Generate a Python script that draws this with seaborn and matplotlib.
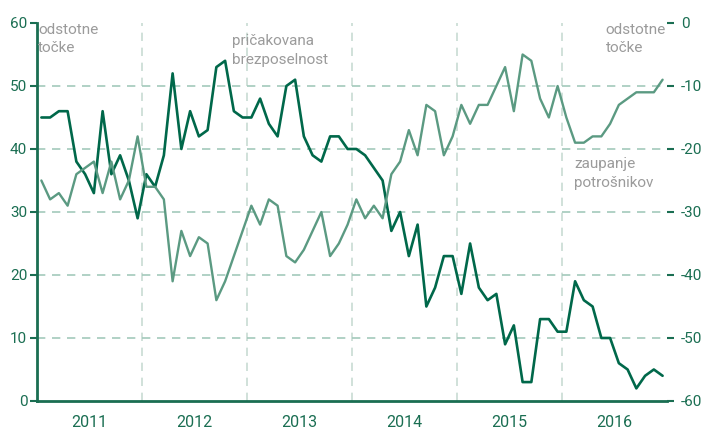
import matplotlib
matplotlib.use("Agg")
import numpy as np
import pandas as pd
import matplotlib.pyplot as plt
import matplotlib.transforms as mtransforms
import seaborn as sns

# monthly data, Jan 2011 - Dec 2016
years = ["2011", "2012", "2013", "2014", "2015", "2016"]

# pričakovana brezposelnost (left axis)
unemployment = [45, 45, 46, 46, 38, 36, 33, 46, 36, 39, 35, 29,
                36, 34, 39, 52, 40, 46, 42, 43, 53, 54, 46, 45,
                45, 48, 44, 42, 50, 51, 42, 39, 38, 42, 42, 40,
                40, 39, 37, 35, 27, 30, 23, 28, 15, 18, 23, 23,
                17, 25, 18, 16, 17, 9, 12, 3, 3, 13, 13, 11,
                11, 19, 16, 15, 10, 10, 6, 5, 2, 4, 5, 4]

# zaupanje potrošnikov (right axis)
confidence = [-25, -28, -27, -29, -24, -23, -22, -27, -22, -28, -25, -18,
              -26, -26, -28, -41, -33, -37, -34, -35, -44, -41, -37, -33,
              -29, -32, -28, -29, -37, -38, -36, -33, -30, -37, -35, -32,
              -28, -31, -29, -31, -24, -22, -17, -21, -13, -14, -21, -18,
              -13, -16, -13, -13, -10, -7, -14, -5, -6, -12, -15, -10,
              -15, -19, -19, -18, -18, -16, -13, -12, -11, -11, -11, -9]

left_ticks = [0, 10, 20, 30, 40, 50, 60]
right_ticks = [-60, -50, -40, -30, -20, -10, 0]

DARK = "#00684a"
LIGHT = "#5b9a82"
AXIS = "#1a6e52"
GRAY = "#9b9b9b"

sns.set_style("white")
plt.rcParams["font.family"] = ["Roboto", "DejaVu Sans"]
plt.rcParams["axes.unicode_minus"] = False

n_months = len(unemployment)
df = pd.DataFrame({
    "month": np.arange(n_months) + 0.5,
    "unemployment": unemployment,
    "confidence": confidence,
})

fig = plt.figure(figsize=(7.02, 4.29), dpi=100)
ax = fig.add_axes([0.0527, 0.0653, 0.8974, 0.8811])
ax2 = ax.twinx()

sns.lineplot(data=df, x="month", y="unemployment", ax=ax, color=DARK, lw=1.9)
sns.lineplot(data=df, x="month", y="confidence", ax=ax2, color=LIGHT, lw=1.7)

ax.set_xlim(0, n_months)
ax.set_ylim(0, 60)
ax2.set_ylim(-60, 0)

# x axis: year boundaries + month ticks, year labels centred
ax.set_xticks(np.arange(0, n_months + 1, 12))
ax.set_xticklabels([])
ax.set_xticks(np.arange(0, n_months + 1), minor=True)
ax.tick_params(axis="x", which="major", length=7, width=1.5, color=AXIS, direction="out")
ax.tick_params(axis="x", which="minor", length=4, width=1.2, color=AXIS, direction="out")
trans = mtransforms.blended_transform_factory(ax.transData, ax.transAxes)
for i, yr in enumerate(years):
    ax.text(i * 12 + 6, -0.069, yr, transform=trans, ha="center", va="baseline",
            fontsize=11.5, color=AXIS)

ax.set_yticks(left_ticks)
ax.tick_params(axis="y", length=5, width=1.5, color=AXIS, labelcolor=AXIS,
               labelsize=11, pad=2)
ax2.set_yticks(right_ticks)
ax2.set_yticklabels([str(t) for t in right_ticks])
ax2.tick_params(axis="y", length=5, width=1.5, color=AXIS, labelcolor=AXIS,
                labelsize=11, pad=5)

ax.set_xlabel("")
ax.set_ylabel("")
ax2.set_ylabel("")

# grid
ax.grid(axis="y", color="#a3c9bb", lw=1.2, linestyle=(0, (5, 4)))
ax.grid(axis="x", which="major", color="#c8dbd3", lw=1.2, linestyle=(0, (5, 4)))
for gl, t in zip(ax.yaxis.get_gridlines(), left_ticks):
    if t in (0, 60):
        gl.set_visible(False)
xt = ax.get_xticks()
for gl, t in zip(ax.xaxis.get_gridlines(), xt):
    if t in (0, n_months):
        gl.set_visible(False)
ax.set_axisbelow(True)

for side in ["top", "right"]:
    ax.spines[side].set_visible(False)
for side in ["top", "right", "left", "bottom"]:
    ax2.spines[side].set_visible(False)
ax.spines["left"].set_color(AXIS)
ax.spines["left"].set_linewidth(2)
ax.spines["bottom"].set_color(AXIS)
ax.spines["bottom"].set_linewidth(2)

# annotations
ax.text(0.002, 1.0, "odstotne\ntočke", transform=ax.transAxes, ha="left", va="top",
        fontsize=11, color=GRAY, linespacing=1.4)
ax.text(0.903, 1.0, "odstotne\ntočke", transform=ax.transAxes, ha="left", va="top",
        fontsize=11, color=GRAY, linespacing=1.4)
ax.text(0.31, 0.97, "pričakovana\nbrezposelnost", transform=ax.transAxes, ha="left",
        va="top", fontsize=11, color=GRAY, linespacing=1.4)
ax.text(0.853, 0.645, "zaupanje\npotrošnikov", transform=ax.transAxes, ha="left",
        va="top", fontsize=11, color=GRAY, linespacing=1.4)

fig.savefig("out.png", dpi=100)
